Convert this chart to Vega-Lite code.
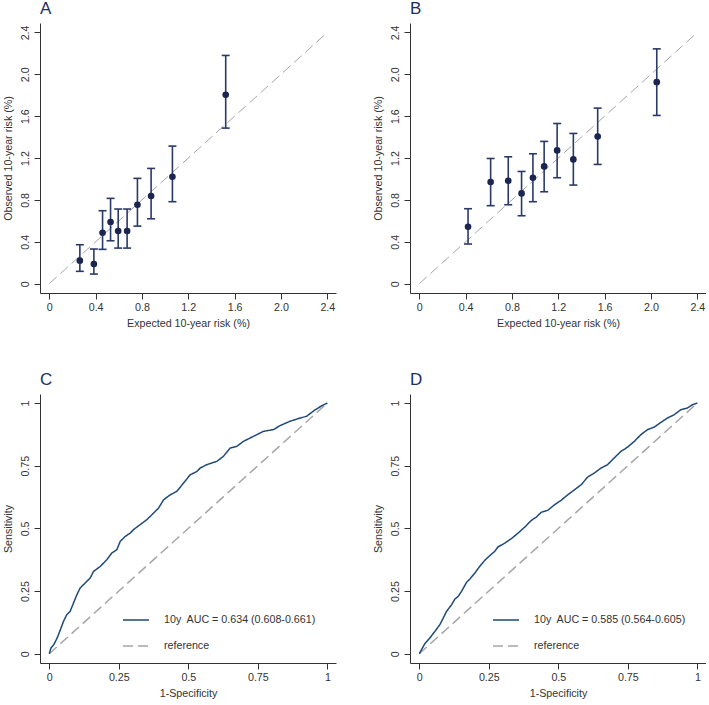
{
  "$schema": "https://vega.github.io/schema/vega-lite/v6.json",
  "padding": {"left": 2, "top": 0, "right": 0, "bottom": 0},
  "background": "white",
  "config": {
    "font": "Liberation Sans",
    "view": {"stroke": null},
    "axis": {"domainColor": "#333333", "tickColor": "#333333", "tickSize": 6, "labelColor": "#333333", "labelFontSize": 10.7, "titleFontSize": 10.7, "titleFontWeight": "normal", "titleColor": "#333333", "grid": false, "labelOverlap": false, "labelFlush": false},
    "axisX": {"labelPadding": 3, "titlePadding": 7},
    "axisY": {"labelAngle": -90, "labelAlign": "center", "labelBaseline": "bottom", "labelPadding": 4, "titlePadding": 6},
    "title": {"anchor": "start", "frame": "group", "fontSize": 17, "fontWeight": "normal", "color": "#1c2f5e", "baseline": "alphabetic", "offset": 5},
    "legend": {"orient": "none", "title": null, "symbolType": "stroke", "symbolSize": 676, "symbolStrokeWidth": 1.5, "labelFontSize": 10.7, "labelColor": "#333333", "labelOffset": 14, "rowPadding": 7, "padding": 0, "labelLimit": 300}
  },
  "datasets": {
    "diag": [{"v": 0}, {"v": 2.4}],
    "calA": [
      {"exp": 0.264, "obs": 0.22, "lo": 0.118, "hi": 0.372},
      {"exp": 0.385, "obs": 0.188, "lo": 0.092, "hi": 0.331},
      {"exp": 0.46, "obs": 0.487, "lo": 0.328, "hi": 0.697},
      {"exp": 0.529, "obs": 0.589, "lo": 0.41, "hi": 0.815},
      {"exp": 0.595, "obs": 0.503, "lo": 0.34, "hi": 0.713},
      {"exp": 0.672, "obs": 0.503, "lo": 0.34, "hi": 0.713},
      {"exp": 0.761, "obs": 0.754, "lo": 0.55, "hi": 1.006},
      {"exp": 0.879, "obs": 0.837, "lo": 0.62, "hi": 1.101},
      {"exp": 1.063, "obs": 1.021, "lo": 0.783, "hi": 1.314},
      {"exp": 1.523, "obs": 1.804, "lo": 1.486, "hi": 2.18}
    ],
    "calB": [
      {"exp": 0.421, "obs": 0.544, "lo": 0.379, "hi": 0.716},
      {"exp": 0.616, "obs": 0.971, "lo": 0.745, "hi": 1.196},
      {"exp": 0.768, "obs": 0.983, "lo": 0.754, "hi": 1.212},
      {"exp": 0.883, "obs": 0.862, "lo": 0.649, "hi": 1.072},
      {"exp": 0.981, "obs": 1.012, "lo": 0.783, "hi": 1.241},
      {"exp": 1.078, "obs": 1.12, "lo": 0.878, "hi": 1.359},
      {"exp": 1.19, "obs": 1.273, "lo": 1.012, "hi": 1.53},
      {"exp": 1.33, "obs": 1.187, "lo": 0.942, "hi": 1.435},
      {"exp": 1.54, "obs": 1.406, "lo": 1.139, "hi": 1.677},
      {"exp": 2.05, "obs": 1.925, "lo": 1.607, "hi": 2.243}
    ],
    "rocC": [
      {"s": "ref", "x": 0, "y": 0}, {"s": "ref", "x": 1, "y": 1},
      {"s": "roc", "x": 0, "y": 0}, {"s": "roc", "x": 0.006, "y": 0.023}, {"s": "roc", "x": 0.016, "y": 0.036}, {"s": "roc", "x": 0.028, "y": 0.062}, {"s": "roc", "x": 0.04, "y": 0.096}, {"s": "roc", "x": 0.051, "y": 0.129}, {"s": "roc", "x": 0.063, "y": 0.156}, {"s": "roc", "x": 0.075, "y": 0.169}, {"s": "roc", "x": 0.087, "y": 0.202}, {"s": "roc", "x": 0.099, "y": 0.235}, {"s": "roc", "x": 0.111, "y": 0.262}, {"s": "roc", "x": 0.129, "y": 0.282}, {"s": "roc", "x": 0.147, "y": 0.302}, {"s": "roc", "x": 0.159, "y": 0.328}, {"s": "roc", "x": 0.183, "y": 0.348}, {"s": "roc", "x": 0.207, "y": 0.375}, {"s": "roc", "x": 0.225, "y": 0.402}, {"s": "roc", "x": 0.243, "y": 0.415}, {"s": "roc", "x": 0.255, "y": 0.448}, {"s": "roc", "x": 0.273, "y": 0.468}, {"s": "roc", "x": 0.291, "y": 0.481}, {"s": "roc", "x": 0.303, "y": 0.495}, {"s": "roc", "x": 0.327, "y": 0.515}, {"s": "roc", "x": 0.351, "y": 0.535}, {"s": "roc", "x": 0.375, "y": 0.561}, {"s": "roc", "x": 0.393, "y": 0.581}, {"s": "roc", "x": 0.411, "y": 0.614}, {"s": "roc", "x": 0.435, "y": 0.634}, {"s": "roc", "x": 0.459, "y": 0.648}, {"s": "roc", "x": 0.483, "y": 0.681}, {"s": "roc", "x": 0.507, "y": 0.714}, {"s": "roc", "x": 0.531, "y": 0.727}, {"s": "roc", "x": 0.543, "y": 0.741}, {"s": "roc", "x": 0.566, "y": 0.754}, {"s": "roc", "x": 0.602, "y": 0.767}, {"s": "roc", "x": 0.626, "y": 0.787}, {"s": "roc", "x": 0.65, "y": 0.82}, {"s": "roc", "x": 0.674, "y": 0.827}, {"s": "roc", "x": 0.698, "y": 0.847}, {"s": "roc", "x": 0.734, "y": 0.867}, {"s": "roc", "x": 0.77, "y": 0.887}, {"s": "roc", "x": 0.806, "y": 0.894}, {"s": "roc", "x": 0.83, "y": 0.91}, {"s": "roc", "x": 0.865, "y": 0.927}, {"s": "roc", "x": 0.901, "y": 0.94}, {"s": "roc", "x": 0.925, "y": 0.947}, {"s": "roc", "x": 0.956, "y": 0.973}, {"s": "roc", "x": 0.98, "y": 0.989}, {"s": "roc", "x": 1, "y": 1}
    ],
    "rocD": [
      {"s": "ref", "x": 0, "y": 0}, {"s": "ref", "x": 1, "y": 1},
      {"s": "roc", "x": 0, "y": 0}, {"s": "roc", "x": 0.008, "y": 0.016}, {"s": "roc", "x": 0.02, "y": 0.04}, {"s": "roc", "x": 0.038, "y": 0.063}, {"s": "roc", "x": 0.056, "y": 0.089}, {"s": "roc", "x": 0.074, "y": 0.116}, {"s": "roc", "x": 0.086, "y": 0.142}, {"s": "roc", "x": 0.098, "y": 0.169}, {"s": "roc", "x": 0.116, "y": 0.195}, {"s": "roc", "x": 0.128, "y": 0.218}, {"s": "roc", "x": 0.14, "y": 0.229}, {"s": "roc", "x": 0.152, "y": 0.249}, {"s": "roc", "x": 0.17, "y": 0.285}, {"s": "roc", "x": 0.182, "y": 0.298}, {"s": "roc", "x": 0.2, "y": 0.322}, {"s": "roc", "x": 0.217, "y": 0.348}, {"s": "roc", "x": 0.235, "y": 0.372}, {"s": "roc", "x": 0.253, "y": 0.391}, {"s": "roc", "x": 0.271, "y": 0.408}, {"s": "roc", "x": 0.283, "y": 0.426}, {"s": "roc", "x": 0.307, "y": 0.441}, {"s": "roc", "x": 0.331, "y": 0.459}, {"s": "roc", "x": 0.355, "y": 0.481}, {"s": "roc", "x": 0.379, "y": 0.505}, {"s": "roc", "x": 0.403, "y": 0.532}, {"s": "roc", "x": 0.421, "y": 0.545}, {"s": "roc", "x": 0.438, "y": 0.564}, {"s": "roc", "x": 0.462, "y": 0.572}, {"s": "roc", "x": 0.486, "y": 0.594}, {"s": "roc", "x": 0.51, "y": 0.612}, {"s": "roc", "x": 0.534, "y": 0.634}, {"s": "roc", "x": 0.558, "y": 0.654}, {"s": "roc", "x": 0.582, "y": 0.674}, {"s": "roc", "x": 0.606, "y": 0.705}, {"s": "roc", "x": 0.63, "y": 0.721}, {"s": "roc", "x": 0.654, "y": 0.741}, {"s": "roc", "x": 0.677, "y": 0.754}, {"s": "roc", "x": 0.701, "y": 0.781}, {"s": "roc", "x": 0.725, "y": 0.807}, {"s": "roc", "x": 0.749, "y": 0.824}, {"s": "roc", "x": 0.773, "y": 0.847}, {"s": "roc", "x": 0.797, "y": 0.874}, {"s": "roc", "x": 0.821, "y": 0.894}, {"s": "roc", "x": 0.845, "y": 0.904}, {"s": "roc", "x": 0.869, "y": 0.923}, {"s": "roc", "x": 0.892, "y": 0.94}, {"s": "roc", "x": 0.916, "y": 0.953}, {"s": "roc", "x": 0.94, "y": 0.973}, {"s": "roc", "x": 0.964, "y": 0.98}, {"s": "roc", "x": 0.982, "y": 0.993}, {"s": "roc", "x": 1, "y": 1}
    ]
  },
  "columns": 2,
  "bounds": "flush",
  "spacing": {"row": 101, "column": 74},
  "resolve": {"scale": {"x": "independent", "y": "independent", "color": "independent", "strokeDash": "independent"}, "legend": {"color": "independent", "strokeDash": "independent"}},
  "concat": [
    {
      "title": {"text": "A"},
      "width": 296, "height": 270,
      "layer": [
        {"data": {"name": "diag"}, "mark": {"type": "line", "color": "#a6a6a6", "strokeWidth": 1, "strokeDash": [10, 5]},
         "encoding": {
           "x": {"field": "v", "type": "quantitative", "scale": {"domain": [-0.08, 2.475], "nice": false, "zero": false}, "axis": {"title": "Expected 10-year risk (%)", "values": [0, 0.4, 0.8, 1.2, 1.6, 2.0, 2.4], "labelExpr": "datum.value == 0 ? '0' : format(datum.value, '.1f')"}},
           "y": {"field": "v", "type": "quantitative", "scale": {"domain": [-0.089, 2.49], "nice": false, "zero": false}, "axis": {"title": "Observed 10-year risk (%)", "values": [0, 0.4, 0.8, 1.2, 1.6, 2.0, 2.4], "labelExpr": "datum.value == 0 ? '0' : format(datum.value, '.1f')"}}
         }},
        {"data": {"name": "calA"}, "mark": {"type": "rule", "color": "#2a3a68", "strokeWidth": 1.6},
         "encoding": {"x": {"field": "exp", "type": "quantitative"}, "y": {"field": "lo", "type": "quantitative"}, "y2": {"field": "hi"}}},
        {"data": {"name": "calA"}, "mark": {"type": "tick", "orient": "horizontal", "color": "#2a3a68", "size": 8, "thickness": 1.6, "opacity": 1},
         "encoding": {"x": {"field": "exp", "type": "quantitative"}, "y": {"field": "lo", "type": "quantitative"}}},
        {"data": {"name": "calA"}, "mark": {"type": "tick", "orient": "horizontal", "color": "#2a3a68", "size": 8, "thickness": 1.6, "opacity": 1},
         "encoding": {"x": {"field": "exp", "type": "quantitative"}, "y": {"field": "hi", "type": "quantitative"}}},
        {"data": {"name": "calA"}, "mark": {"type": "circle", "color": "#1a2550", "size": 44, "opacity": 1},
         "encoding": {"x": {"field": "exp", "type": "quantitative"}, "y": {"field": "obs", "type": "quantitative"}}}
      ]
    },
    {
      "title": {"text": "B"},
      "width": 296, "height": 270,
      "layer": [
        {"data": {"name": "diag"}, "mark": {"type": "line", "color": "#a6a6a6", "strokeWidth": 1, "strokeDash": [10, 5]},
         "encoding": {
           "x": {"field": "v", "type": "quantitative", "scale": {"domain": [-0.08, 2.475], "nice": false, "zero": false}, "axis": {"title": "Expected 10-year risk (%)", "values": [0, 0.4, 0.8, 1.2, 1.6, 2.0, 2.4], "labelExpr": "datum.value == 0 ? '0' : format(datum.value, '.1f')"}},
           "y": {"field": "v", "type": "quantitative", "scale": {"domain": [-0.089, 2.49], "nice": false, "zero": false}, "axis": {"title": "Observed 10-year risk (%)", "values": [0, 0.4, 0.8, 1.2, 1.6, 2.0, 2.4], "labelExpr": "datum.value == 0 ? '0' : format(datum.value, '.1f')"}}
         }},
        {"data": {"name": "calB"}, "mark": {"type": "rule", "color": "#2a3a68", "strokeWidth": 1.6},
         "encoding": {"x": {"field": "exp", "type": "quantitative"}, "y": {"field": "lo", "type": "quantitative"}, "y2": {"field": "hi"}}},
        {"data": {"name": "calB"}, "mark": {"type": "tick", "orient": "horizontal", "color": "#2a3a68", "size": 8, "thickness": 1.6, "opacity": 1},
         "encoding": {"x": {"field": "exp", "type": "quantitative"}, "y": {"field": "lo", "type": "quantitative"}}},
        {"data": {"name": "calB"}, "mark": {"type": "tick", "orient": "horizontal", "color": "#2a3a68", "size": 8, "thickness": 1.6, "opacity": 1},
         "encoding": {"x": {"field": "exp", "type": "quantitative"}, "y": {"field": "hi", "type": "quantitative"}}},
        {"data": {"name": "calB"}, "mark": {"type": "circle", "color": "#1a2550", "size": 44, "opacity": 1},
         "encoding": {"x": {"field": "exp", "type": "quantitative"}, "y": {"field": "obs", "type": "quantitative"}}}
      ]
    },
    {
      "title": {"text": "C"},
      "width": 296, "height": 269,
      "data": {"name": "rocC"},
      "mark": {"type": "line", "strokeWidth": 1.5},
      "encoding": {
        "x": {"field": "x", "type": "quantitative", "scale": {"domain": [-0.0334, 1.031], "nice": false, "zero": false}, "axis": {"title": "1-Specificity", "values": [0, 0.25, 0.5, 0.75, 1], "labelExpr": "'' + datum.value"}},
        "y": {"field": "y", "type": "quantitative", "scale": {"domain": [-0.037, 1.036], "nice": false, "zero": false}, "axis": {"title": "Sensitivity", "values": [0, 0.25, 0.5, 0.75, 1], "labelExpr": "'' + datum.value"}},
        "color": {"field": "s", "type": "nominal", "scale": {"domain": ["roc", "ref"], "range": ["#1f4a78", "#a6a6a6"]}, "legend": {"legendX": 82, "legendY": 212, "labelExpr": "datum.label == 'roc' ? '10y\u00a0 AUC = 0.634 (0.608-0.661)' : 'reference'"}},
        "strokeDash": {"field": "s", "type": "nominal", "scale": {"domain": ["roc", "ref"], "range": [[1, 0], [10, 5]]}, "legend": {"legendX": 82, "legendY": 212, "labelExpr": "datum.label == 'roc' ? '10y\u00a0 AUC = 0.634 (0.608-0.661)' : 'reference'"}},
        "strokeWidth": {"field": "s", "type": "nominal", "scale": {"domain": ["roc", "ref"], "range": [1.5, 1]}, "legend": null}
      }
    },
    {
      "title": {"text": "D"},
      "width": 296, "height": 269,
      "data": {"name": "rocD"},
      "mark": {"type": "line", "strokeWidth": 1.5},
      "encoding": {
        "x": {"field": "x", "type": "quantitative", "scale": {"domain": [-0.0334, 1.031], "nice": false, "zero": false}, "axis": {"title": "1-Specificity", "values": [0, 0.25, 0.5, 0.75, 1], "labelExpr": "'' + datum.value"}},
        "y": {"field": "y", "type": "quantitative", "scale": {"domain": [-0.037, 1.036], "nice": false, "zero": false}, "axis": {"title": "Sensitivity", "values": [0, 0.25, 0.5, 0.75, 1], "labelExpr": "'' + datum.value"}},
        "color": {"field": "s", "type": "nominal", "scale": {"domain": ["roc", "ref"], "range": ["#1f4a78", "#a6a6a6"]}, "legend": {"legendX": 82, "legendY": 212, "labelExpr": "datum.label == 'roc' ? '10y\u00a0 AUC = 0.585 (0.564-0.605)' : 'reference'"}},
        "strokeDash": {"field": "s", "type": "nominal", "scale": {"domain": ["roc", "ref"], "range": [[1, 0], [10, 5]]}, "legend": {"legendX": 82, "legendY": 212, "labelExpr": "datum.label == 'roc' ? '10y\u00a0 AUC = 0.585 (0.564-0.605)' : 'reference'"}},
        "strokeWidth": {"field": "s", "type": "nominal", "scale": {"domain": ["roc", "ref"], "range": [1.5, 1]}, "legend": null}
      }
    }
  ]
}
